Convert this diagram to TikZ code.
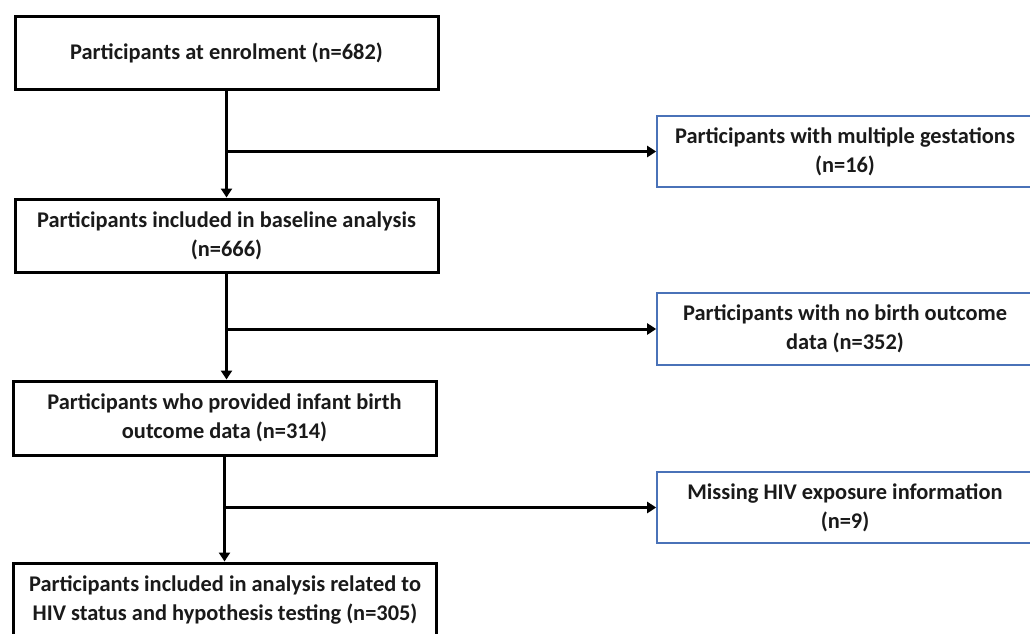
\documentclass[tikz,border=0pt]{standalone}
\usepackage{fontspec}
\setmainfont{Carlito}
\usetikzlibrary{arrows.meta,calc}
\definecolor{boxblue}{HTML}{4A72B8}
\definecolor{txt}{HTML}{1A1A1A}
\begin{document}
\begin{tikzpicture}[x=1pt,y=-1pt,
  mainbox/.style={draw=black,line width=3pt,minimum width=423pt,minimum height=73pt,
    align=center,font=\fontsize{22.4}{29}\selectfont\bfseries,text=txt,inner sep=0pt},
  sidebox/.style={draw=boxblue,line width=1.6pt,minimum width=376pt,minimum height=71pt,
    align=center,font=\fontsize{22.4}{29}\selectfont\bfseries,text=txt,inner sep=0pt},
  conn/.style={line width=3pt,-{Triangle[length=9pt,width=11pt]}}]
\useasboundingbox (0,0) rectangle (1030,633);
\fill[white] (0,0) rectangle (1030,633);
\node[mainbox] (b1) at (226.5,52.5) {Participants at enrolment (n=682)};
\node[mainbox] (b2) at (226.5,235.5) {Participants included in baseline analysis\\(n=666)};
\node[mainbox,minimum height=74pt] (b3) at (224.5,418) {Participants who provided infant birth\\outcome data (n=314)};
\node[mainbox,minimum height=74pt] (b4) at (225,600) {Participants included in analysis related to\\HIV status and hypothesis testing (n=305)};
\node[sidebox] (r1) at (845,151.5) {Participants with multiple gestations\\(n=16)};
\node[sidebox,minimum height=72pt] (r2) at (845,329) {Participants with no birth outcome\\data (n=352)};
\node[sidebox] (r3) at (845,507.5) {Missing HIV exposure information\\(n=9)};
\draw[conn] (b1.south) -- (b1.south |- b2.north);
\coordinate (j1) at (b1.south |- r1.west);
\draw[conn] ([xshift=-1.5pt]j1) -- (r1.west);
\draw[conn] (b2.south) -- (b2.south |- b3.north);
\coordinate (j2) at (b2.south |- r2.west);
\draw[conn] ([xshift=-1.5pt]j2) -- (r2.west);
\draw[conn] (b3.south) -- (b3.south |- b4.north);
\coordinate (j3) at (b3.south |- r3.west);
\draw[conn] ([xshift=-1.5pt]j3) -- (r3.west);
\end{tikzpicture}
\end{document}
